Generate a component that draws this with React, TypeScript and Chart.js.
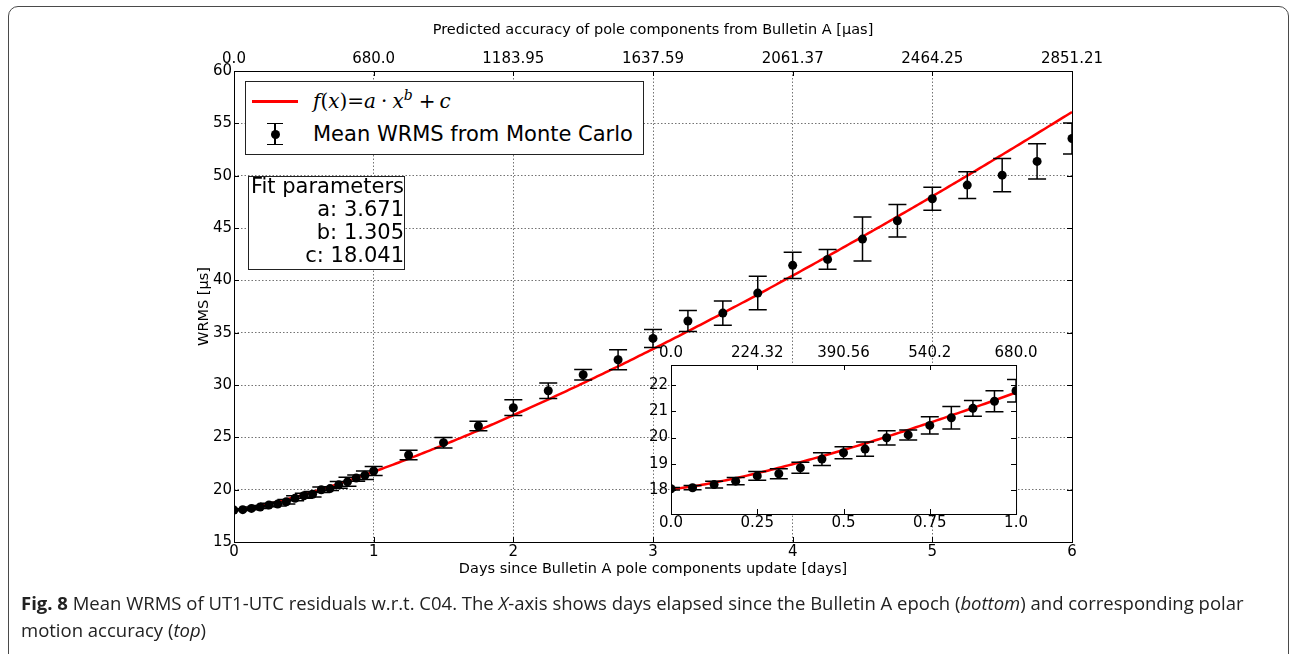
import React, { useEffect, useRef } from "react";
import { Chart, registerables } from "chart.js";

Chart.register(...registerables);

// First day after the update, sampled every 1/16 day
const daysFine = [0, 0.0625, 0.125, 0.1875, 0.25, 0.3125, 0.375, 0.4375, 0.5, 0.5625, 0.625, 0.6875, 0.75, 0.8125, 0.875, 0.9375, 1.0];
const wrmsFine = [18.05, 18.09, 18.21, 18.34, 18.54, 18.62, 18.85, 19.18, 19.42, 19.56, 19.99, 20.1, 20.46, 20.75, 21.11, 21.38, 21.78];
const errFine = [0.05, 0.08, 0.13, 0.14, 0.17, 0.19, 0.21, 0.24, 0.23, 0.27, 0.27, 0.19, 0.33, 0.43, 0.3, 0.4, 0.43];

// Later days, sampled every 1/4 day
const daysCoarse = [1.25, 1.5, 1.75, 2.0, 2.25, 2.5, 2.75, 3.0, 3.25, 3.5, 3.75, 4.0, 4.25, 4.5, 4.75, 5.0, 5.25, 5.5, 5.75, 6.0];
const wrmsCoarse = [23.31, 24.49, 26.08, 27.83, 29.45, 30.98, 32.41, 34.45, 36.11, 36.87, 38.78, 41.43, 42.0, 43.94, 45.69, 47.8, 49.1, 50.05, 51.36, 53.55];
const errCoarse = [0.45, 0.5, 0.46, 0.75, 0.75, 0.5, 0.95, 0.86, 1.0, 1.15, 1.6, 1.25, 0.95, 2.1, 1.55, 1.1, 1.27, 1.58, 1.69, 1.48];

// Fitted power law f(x) = a * x^b + c
const fitA = 3.671;
const fitB = 1.305;
const fitC = 18.041;

// Axis ticks
const mainDayTicks = [0, 1, 2, 3, 4, 5, 6];
const mainAccuracyLabels = ["0.0", "680.0", "1183.95", "1637.59", "2061.37", "2464.25", "2851.21"];
const mainWrmsTicks = [15, 20, 25, 30, 35, 40, 45, 50, 55, 60];
const insetDayTicks = [0, 0.25, 0.5, 0.75, 1.0];
const insetDayLabels = ["0.0", "0.25", "0.5", "0.75", "1.0"];
const insetAccuracyLabels = ["0.0", "224.32", "390.56", "540.2", "680.0"];
const insetWrmsTicks = [18, 19, 20, 21, 22];

const fitCurve = (from: number, to: number, step: number) => {
  const pts: { x: number; y: number }[] = [];
  const n = Math.round((to - from) / step);
  for (let i = 0; i <= n; i++) {
    const x = from + i * step;
    pts.push({ x, y: fitA * Math.pow(x, fitB) + fitC });
  }
  return pts;
};

const tickFont = { family: "DejaVu Sans", size: 15 };
const titleFont = { family: "DejaVu Sans", size: 14.5 };

// Vertical error bars with caps, drawn just beneath the markers
const errorBarPlugin = {
  id: "errorBars",
  beforeDatasetDraw(chart: any, args: any) {
    const ds = chart.data.datasets[args.index];
    if (!ds.errors) return;
    const meta = chart.getDatasetMeta(args.index);
    const ys = chart.scales.y;
    const { ctx, chartArea: a } = chart;
    const cap = 9;
    ctx.save();
    ctx.beginPath();
    ctx.rect(a.left, a.top, a.right - a.left, a.bottom - a.top);
    ctx.clip();
    ctx.beginPath();
    meta.data.forEach((pt: any, i: number) => {
      const v = ds.data[i].y;
      const e = ds.errors[i];
      const yTop = ys.getPixelForValue(v + e);
      const yBot = ys.getPixelForValue(v - e);
      const x = pt.x;
      ctx.moveTo(x, yTop);
      ctx.lineTo(x, yBot);
      ctx.moveTo(x - cap, yTop);
      ctx.lineTo(x + cap, yTop);
      ctx.moveTo(x - cap, yBot);
      ctx.lineTo(x + cap, yBot);
    });
    ctx.strokeStyle = "#000";
    ctx.lineWidth = 1.5;
    ctx.stroke();
    ctx.restore();
  },
};

// Plot background, box frame and inward ticks on all four sides
const framePlugin = {
  id: "frameTicks",
  beforeDraw(chart: any, _args: any, opts: any) {
    if (!opts.fill) return;
    const { ctx, chartArea: a } = chart;
    ctx.save();
    ctx.fillStyle = opts.fill;
    ctx.fillRect(a.left, a.top, a.right - a.left, a.bottom - a.top);
    ctx.restore();
  },
  afterDatasetsDraw(chart: any, _args: any, opts: any) {
    const { ctx, chartArea: a } = chart;
    const len = opts.tickLen ?? 5;
    ctx.save();
    ctx.strokeStyle = "#000";
    ctx.lineWidth = 1;
    ctx.beginPath();
    const xs = chart.scales.x;
    const ys = chart.scales.y;
    xs.ticks.forEach((t: any) => {
      const p = Math.round(xs.getPixelForValue(t.value)) + 0.5;
      ctx.moveTo(p, a.bottom);
      ctx.lineTo(p, a.bottom - len);
      ctx.moveTo(p, a.top);
      ctx.lineTo(p, a.top + len);
    });
    ys.ticks.forEach((t: any) => {
      const p = Math.round(ys.getPixelForValue(t.value)) + 0.5;
      ctx.moveTo(a.left, p);
      ctx.lineTo(a.left + len, p);
      ctx.moveTo(a.right, p);
      ctx.lineTo(a.right - len, p);
    });
    ctx.stroke();
    ctx.strokeRect(a.left + 0.5, a.top + 0.5, a.right - a.left, a.bottom - a.top);
    ctx.restore();
  },
};

const setTicks = (values: number[]) => (scale: any) => {
  scale.ticks = values.map((v) => ({ value: v }));
};

function mainConfig(): any {
  const points = [
    ...daysFine.map((x, i) => ({ x, y: wrmsFine[i] })),
    ...daysCoarse.map((x, i) => ({ x, y: wrmsCoarse[i] })),
  ];
  const errors = [...errFine, ...errCoarse];
  const grid = { color: "rgba(0,0,0,0.55)", lineWidth: 1, drawTicks: false };
  const border = { display: false, dash: [1.5, 2] };
  return {
    type: "scatter",
    data: {
      datasets: [
        {
          label: "Mean WRMS from Monte Carlo",
          data: points,
          errors,
          pointRadius: 4.5,
          pointBackgroundColor: "#000",
          pointBorderWidth: 0,
          showLine: false,
          clip: 0,
        },
        {
          label: "f(x)=a·x^b+c",
          data: fitCurve(0, 6, 0.02),
          showLine: true,
          borderColor: "#ff0000",
          borderWidth: 2.5,
          pointRadius: 0,
          tension: 0,
          clip: 0,
        },
      ],
    },
    options: {
      responsive: false,
      animation: false,
      events: [],
      layout: { padding: { left: 0, right: 219, top: 0, bottom: 0 } },
      plugins: { legend: { display: false }, tooltip: { enabled: false }, frameTicks: { tickLen: 5 } },
      scales: {
        x: {
          type: "linear",
          position: "bottom",
          min: 0,
          max: 6,
          afterBuildTicks: setTicks(mainDayTicks),
          ticks: { font: tickFont, color: "#000", padding: 1, maxRotation: 0, callback: (v: number) => String(v) },
          grid,
          border,
          title: {
            display: true,
            text: "Days since Bulletin A pole components update [days]",
            font: titleFont,
            color: "#000",
            padding: { top: 0, bottom: 12.5 },
          },
          afterFit: (s: any) => {
            s.height = 48;
          },
        },
        x2: {
          type: "linear",
          position: "top",
          min: 0,
          max: 6,
          afterBuildTicks: setTicks(mainDayTicks),
          ticks: {
            font: tickFont,
            color: "#000",
            padding: 3,
            maxRotation: 0,
            callback: (v: number) => mainAccuracyLabels[mainDayTicks.indexOf(v)],
          },
          grid: { display: false, drawTicks: false },
          border: { display: false },
          title: {
            display: true,
            text: "Predicted accuracy of pole components from Bulletin A [μas]",
            font: titleFont,
            color: "#000",
            padding: { top: 21.5, bottom: 0 },
          },
          afterFit: (s: any) => {
            s.height = 71;
          },
        },
        y: {
          type: "linear",
          position: "left",
          min: 15,
          max: 60,
          afterBuildTicks: setTicks(mainWrmsTicks),
          ticks: { font: tickFont, color: "#000", padding: 2, callback: (v: number) => String(v) },
          grid,
          border,
          title: {
            display: true,
            text: "WRMS [μs]",
            font: titleFont,
            color: "#000",
            padding: { top: 195.5, bottom: 0 },
          },
          afterFit: (s: any) => {
            s.width = 234;
          },
        },
      },
    },
    plugins: [errorBarPlugin, framePlugin],
  };
}

function insetConfig(): any {
  const points = daysFine.map((x, i) => ({ x, y: wrmsFine[i] }));
  return {
    type: "scatter",
    data: {
      datasets: [
        {
          label: "Mean WRMS from Monte Carlo",
          data: points,
          errors: errFine,
          pointRadius: 4.5,
          pointBackgroundColor: "#000",
          pointBorderWidth: 0,
          showLine: false,
          clip: 0,
        },
        {
          label: "f(x)=a·x^b+c",
          data: fitCurve(0, 1, 0.01),
          showLine: true,
          borderColor: "#ff0000",
          borderWidth: 2.5,
          pointRadius: 0,
          tension: 0,
          clip: 0,
        },
      ],
    },
    options: {
      responsive: false,
      animation: false,
      events: [],
      layout: { padding: { left: 0, right: 20, top: 0, bottom: 0 } },
      plugins: {
        legend: { display: false },
        tooltip: { enabled: false },
        frameTicks: { fill: "#ffffff", tickLen: 5 },
      },
      scales: {
        x: {
          type: "linear",
          position: "bottom",
          min: 0,
          max: 1,
          afterBuildTicks: setTicks(insetDayTicks),
          ticks: {
            font: tickFont,
            color: "#000",
            padding: 0.5,
            maxRotation: 0,
            callback: (v: number) => insetDayLabels[insetDayTicks.indexOf(v)],
          },
          grid: { display: false, drawTicks: false },
          border: { display: false },
          afterFit: (s: any) => {
            s.height = 31;
          },
        },
        x2: {
          type: "linear",
          position: "top",
          min: 0,
          max: 1,
          afterBuildTicks: setTicks(insetDayTicks),
          ticks: {
            font: tickFont,
            color: "#000",
            padding: 2.5,
            maxRotation: 0,
            callback: (v: number) => insetAccuracyLabels[insetDayTicks.indexOf(v)],
          },
          grid: { display: false, drawTicks: false },
          border: { display: false },
          afterFit: (s: any) => {
            s.height = 35;
          },
        },
        y: {
          type: "linear",
          position: "left",
          min: 17.09,
          max: 22.76,
          afterBuildTicks: setTicks(insetWrmsTicks),
          ticks: { font: tickFont, color: "#000", padding: 3, callback: (v: number) => String(v) },
          grid: { display: false, drawTicks: false },
          border: { display: false },
          afterFit: (s: any) => {
            s.width = 51;
          },
        },
      },
    },
    plugins: [errorBarPlugin, framePlugin],
  };
}

const mathStyle: React.CSSProperties = { fontFamily: "'DejaVu Serif', serif", fontStyle: "italic" };
const upright: React.CSSProperties = { fontStyle: "normal" };

export default function App() {
  const mainRef = useRef<HTMLCanvasElement>(null);
  const insetRef = useRef<HTMLCanvasElement>(null);

  useEffect(() => {
    const main = new Chart(mainRef.current as HTMLCanvasElement, mainConfig());
    const inset = new Chart(insetRef.current as HTMLCanvasElement, insetConfig());
    return () => {
      main.destroy();
      inset.destroy();
    };
  }, []);

  return (
    <div
      style={{
        position: "fixed",
        left: 0,
        top: 0,
        width: 1291,
        height: 654,
        overflow: "hidden",
        background: "#fff",
      }}
    >
      <div
        style={{
          position: "absolute",
          left: 8,
          top: 6,
          width: 1279,
          height: 700,
          border: "1.5px solid #4a4a4a",
          borderRadius: 10,
        }}
      />
      <canvas ref={mainRef} width={1291} height={590} style={{ position: "absolute", left: 0, top: 0 }} />
      <canvas ref={insetRef} width={420} height={215} style={{ position: "absolute", left: 620, top: 330 }} />

      {/* legend */}
      <div
        style={{
          position: "absolute",
          left: 245,
          top: 81,
          width: 399,
          height: 74,
          boxSizing: "border-box",
          border: "1px solid #222",
          background: "#fff",
        }}
      >
        <div style={{ position: "absolute", left: 6, top: 18, width: 46, height: 2.5, background: "#ff0000" }} />
        <div
          style={{
            position: "absolute",
            left: 67,
            top: 4,
            height: 30,
            lineHeight: "30px",
            fontSize: 20,
            whiteSpace: "nowrap",
            color: "#000",
            ...mathStyle,
          }}
        >
          f<span style={upright}>(</span>x<span style={upright}>)</span>
          <span style={upright}>=</span>a<span style={{ ...upright, margin: "0 5px" }}>·</span>x
          <sup style={{ fontSize: 14, verticalAlign: "0", position: "relative", top: -8 }}>b</sup>
          <span style={{ ...upright, margin: "0 4px 0 6px" }}>+</span>c
        </div>
        <div style={{ position: "absolute", left: 28.25, top: 41, width: 1.5, height: 21, background: "#000" }} />
        <div style={{ position: "absolute", left: 21, top: 40.5, width: 16, height: 1.5, background: "#000" }} />
        <div style={{ position: "absolute", left: 21, top: 61.5, width: 16, height: 1.5, background: "#000" }} />
        <div
          style={{
            position: "absolute",
            left: 24.5,
            top: 47.5,
            width: 9,
            height: 9,
            borderRadius: "50%",
            background: "#000",
          }}
        />
        <div
          style={{
            position: "absolute",
            left: 67,
            top: 37,
            height: 30,
            lineHeight: "30px",
            fontFamily: "'DejaVu Sans', sans-serif",
            fontSize: 21,
            whiteSpace: "nowrap",
            color: "#000",
          }}
        >
          Mean WRMS from Monte Carlo
        </div>
      </div>

      {/* fit parameter box */}
      <div
        style={{
          position: "absolute",
          left: 248,
          top: 176,
          width: 155,
          height: 92,
          border: "1px solid #222",
          background: "#fff",
          overflow: "visible",
        }}
      >
        <div
          style={{
            position: "relative",
            top: -2.5,
            fontFamily: "'DejaVu Sans', sans-serif",
            fontSize: 21,
            lineHeight: "23px",
            textAlign: "right",
            whiteSpace: "nowrap",
            color: "#000",
          }}
        >
          <div>Fit parameters</div>
          <div>a: {fitA.toFixed(3)}</div>
          <div>b: {fitB.toFixed(3)}</div>
          <div>c: {fitC.toFixed(3)}</div>
        </div>
      </div>

      {/* caption */}
      <div
        style={{
          position: "absolute",
          left: 21,
          top: 589,
          width: 1262,
          fontFamily: "'Open Sans', sans-serif",
          fontSize: 18.5,
          lineHeight: "27px",
          color: "#222",
          whiteSpace: "nowrap",
        }}
      >
        <b>Fig. 8</b> Mean WRMS of UT1-UTC residuals w.r.t. C04. The <i>X</i>-axis shows days elapsed since the Bulletin A
        epoch (<i>bottom</i>) and corresponding polar
        <br />
        motion accuracy (<i>top</i>)
      </div>
    </div>
  );
}
